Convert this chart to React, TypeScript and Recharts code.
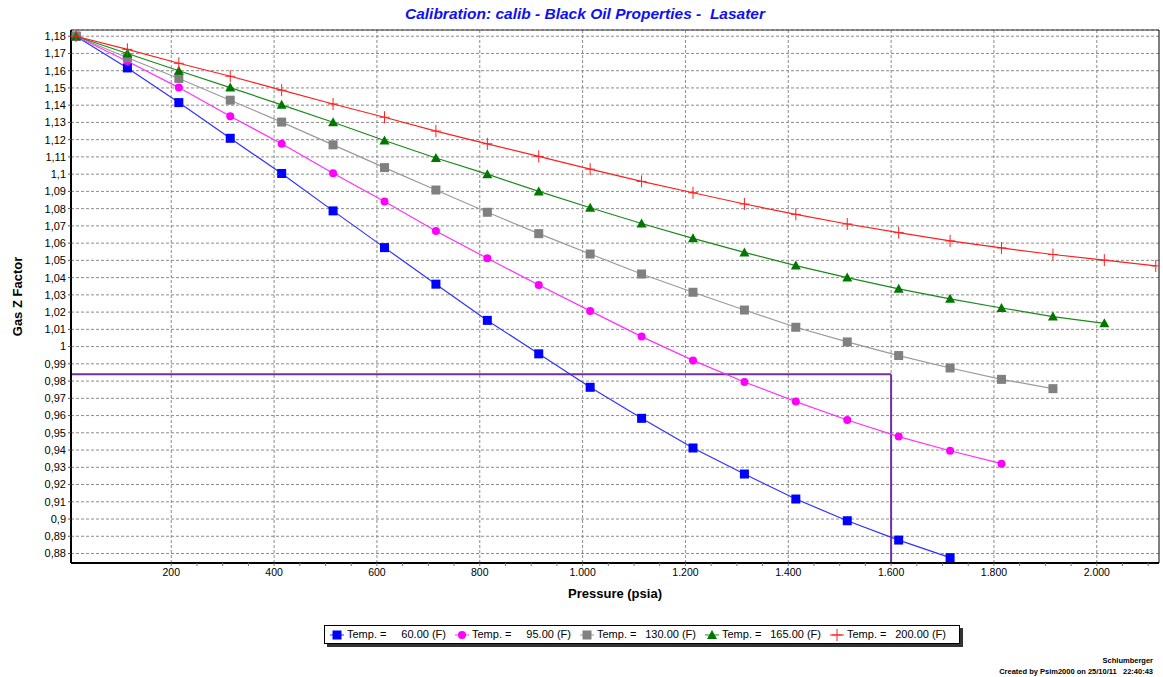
import { LineChart, Line, XAxis, YAxis, CartesianGrid, ReferenceLine, Legend } from "recharts"

// pressure steps (psia) shared by all isotherms
const pressure = [
  14.7, 114.7, 214.7, 314.7, 414.7, 514.7, 614.7, 714.7, 814.7, 914.7, 1014.7,
  1114.7, 1214.7, 1314.7, 1414.7, 1514.7, 1614.7, 1714.7, 1814.7, 1914.7, 2014.7, 2114.7,
]

// Gas Z factor per temperature
const z60 = [
  1.18, 1.1616, 1.1415, 1.1208, 1.1004, 1.0787, 1.0574, 1.0362, 1.0152, 0.9958, 0.9764,
  0.9584, 0.9412, 0.9261, 0.9116, 0.899, 0.8878, 0.8776,
]
const z95 = [
  1.18, 1.1655, 1.1502, 1.1336, 1.1176, 1.1005, 1.0841, 1.067, 1.0512, 1.0357, 1.0207,
  1.0058, 0.992, 0.9795, 0.9681, 0.9574, 0.9478, 0.9396, 0.9321,
]
const z130 = [
  1.18, 1.1675, 1.1555, 1.1429, 1.1302, 1.117, 1.1038, 1.0908, 1.0779, 1.0655, 1.0537,
  1.0421, 1.0315, 1.0212, 1.0112, 1.0027, 0.9948, 0.9876, 0.981, 0.9756,
]
const z165 = [
  1.18, 1.17, 1.16, 1.1502, 1.1402, 1.1301, 1.1195, 1.1094, 1.1, 1.09, 1.0805,
  1.0714, 1.0628, 1.0546, 1.047, 1.04, 1.0335, 1.0277, 1.0224, 1.0174, 1.0135,
]
const z200 = [
  1.18, 1.1724, 1.1643, 1.1568, 1.1487, 1.1407, 1.133, 1.125, 1.1176, 1.1103, 1.1029,
  1.0958, 1.0892, 1.0827, 1.0767, 1.0711, 1.0661, 1.0613, 1.0572, 1.0534, 1.0501, 1.0468,
]

const tempLabels = ["60.00", "95.00", "130.00", "165.00", "200.00"]

const xMajorTicks = [200, 400, 600, 800, 1000, 1200, 1400, 1600, 1800, 2000]
const xMinorTicks = [
  200, 250, 300, 350, 400, 450, 500, 550, 600, 650, 700, 750, 800, 850, 900, 950, 1000,
  1050, 1100, 1150, 1200, 1250, 1300, 1350, 1400, 1450, 1500, 1550, 1600, 1650, 1700,
  1750, 1800, 1850, 1900, 1950, 2000, 2050, 2100,
]
const yTicks = [
  0.88, 0.89, 0.9, 0.91, 0.92, 0.93, 0.94, 0.95, 0.96, 0.97, 0.98, 0.99, 1, 1.01, 1.02,
  1.03, 1.04, 1.05, 1.06, 1.07, 1.08, 1.09, 1.1, 1.11, 1.12, 1.13, 1.14, 1.15, 1.16, 1.17, 1.18,
]

// calibration box
const cutZ = 0.9839
const cutP = 1600

const X_MIN = 5
const X_MAX = 2121
const Y_MIN = 0.8745
const Y_MAX = 1.1836

const FONT = '"Liberation Sans", Arial, sans-serif'

const rows = (vals: number[]) => vals.map((z, i) => ({ p: pressure[i], z }))

type Shape = "square" | "circle" | "triangle" | "plus"

function Marker({ cx, cy, shape, color, fill }: any) {
  if (cx == null || cy == null) return null
  if (shape === "square")
    return <rect x={cx - 4.5} y={cy - 4.5} width={9} height={9} fill={fill} />
  if (shape === "circle") return <circle cx={cx} cy={cy} r={4} fill={fill} />
  if (shape === "triangle")
    return <polygon points={`${cx},${cy - 5} ${cx + 5},${cy + 4} ${cx - 5},${cy + 4}`} fill={fill} />
  return (
    <g stroke={color} strokeWidth={1}>
      <line x1={cx - 5} y1={cy} x2={cx + 5} y2={cy} />
      <line x1={cx} y1={cy - 6} x2={cx} y2={cy + 6} />
    </g>
  )
}

const series: { data: number[]; color: string; fill: string; shape: Shape; label: string }[] = [
  { data: z60, color: "#3030ff", fill: "#0000ff", shape: "square", label: tempLabels[0] },
  { data: z95, color: "#ff30ff", fill: "#ff00ff", shape: "circle", label: tempLabels[1] },
  { data: z130, color: "#9a9a9a", fill: "#808080", shape: "square", label: tempLabels[2] },
  { data: z165, color: "#1a8a1a", fill: "#007800", shape: "triangle", label: tempLabels[3] },
  { data: z200, color: "#ff2020", fill: "#ff0000", shape: "plus", label: tempLabels[4] },
]

const fmtY = (v: number) => String(parseFloat(v.toFixed(2))).replace(".", ",")
const fmtX = (v: number) => (v >= 1000 ? `${Math.floor(v / 1000)}.${String(v % 1000).padStart(3, "0")}` : String(v))

function XTick({ x, y, payload }: any) {
  if (!xMajorTicks.includes(payload.value)) return <g />
  return (
    <text x={x} y={y + 8} textAnchor="middle" fontSize={10.5} fontFamily={FONT} fill="#000">
      {fmtX(payload.value)}
    </text>
  )
}

function LegendBox() {
  return (
    <div
      style={{
        display: "flex",
        border: "1px solid #000",
        boxShadow: "3px 3px 0 #333",
        background: "#fff",
        padding: "2px 4px 2px 5px",
        fontFamily: FONT,
        fontSize: 11,
        lineHeight: "13px",
        whiteSpace: "nowrap",
        color: "#000",
      }}
    >
      {series.map((s) => (
        <div key={s.label} style={{ display: "flex", alignItems: "center", marginRight: 9 }}>
          <svg width={14} height={12}>
            <line x1={0} y1={6} x2={14} y2={6} stroke={s.color} strokeWidth={1} />
            <Marker cx={7} cy={6} shape={s.shape} color={s.color} fill={s.fill} />
          </svg>
          <span style={{ width: 41, marginLeft: 3 }}>Temp. =</span>
          <span style={{ width: 58, textAlign: "right" }}>{s.label} (F)</span>
        </div>
      ))}
    </div>
  )
}

export default function App() {
  return (
    <div style={{ position: "absolute", left: 0, top: 0, width: 1163, height: 677, background: "#fff" }}>
      <div
        style={{
          position: "absolute",
          left: 0,
          top: 5,
          width: 1170,
          textAlign: "center",
          fontFamily: FONT,
          fontSize: 15.5,
          fontWeight: "bold",
          fontStyle: "italic",
          color: "#1010f0",
          lineHeight: "18px",
        }}
      >
        Calibration: calib - Black Oil Properties -&nbsp; Lasater
      </div>

      <LineChart width={1163} height={677} margin={{ top: 30, right: 4, bottom: 74, left: 0 }}>
        <CartesianGrid stroke="#8c8c8c" strokeDasharray="3 2" verticalValues={xMajorTicks} />
        <XAxis
          type="number"
          dataKey="p"
          domain={[X_MIN, X_MAX]}
          ticks={xMinorTicks}
          interval={0}
          allowDataOverflow
          height={40}
          tickSize={3}
          tickMargin={2}
          tick={<XTick />}
          axisLine={{ stroke: "#000", strokeWidth: 2 }}
          tickLine={{ stroke: "#777" }}
          label={{
            content: ({ viewBox }: any) => (
              <text
                x={viewBox.x + viewBox.width / 2}
                y={viewBox.y + 34.5}
                textAnchor="middle"
                fontFamily={FONT}
                fontSize={13}
                fontWeight="bold"
                fill="#000"
              >
                Pressure (psia)
              </text>
            ),
          }}
        />
        <YAxis
          type="number"
          domain={[Y_MIN, Y_MAX]}
          ticks={yTicks}
          interval={0}
          allowDataOverflow
          width={71}
          tickSize={3}
          tickMargin={2}
          tickFormatter={fmtY}
          tick={{ fontSize: 11, fontFamily: FONT, fill: "#000" }}
          axisLine={{ stroke: "#000", strokeWidth: 2 }}
          tickLine={{ stroke: "#555" }}
          label={{
            content: ({ viewBox }: any) => {
              const cy = viewBox.y + viewBox.height / 2
              return (
                <text
                  x={22}
                  y={cy}
                  transform={`rotate(-90 22 ${cy})`}
                  textAnchor="middle"
                  fontFamily={FONT}
                  fontSize={13}
                  fontWeight="bold"
                  fill="#000"
                >
                  Gas Z Factor
                </text>
              )
            },
          }}
        />
        <ReferenceLine y={Y_MAX} stroke="#333" strokeWidth={1} />
        <ReferenceLine x={X_MAX} stroke="#000" strokeWidth={1} />
        <ReferenceLine
          segment={[{ x: X_MIN, y: cutZ }, { x: cutP, y: cutZ }]}
          stroke="#7030a0"
          strokeWidth={2}
        />
        <ReferenceLine
          segment={[{ x: cutP, y: cutZ }, { x: cutP, y: Y_MIN }]}
          stroke="#7030a0"
          strokeWidth={2}
        />
        {series.map((s) => (
          <Line
            key={s.label}
            data={rows(s.data)}
            dataKey="z"
            type="linear"
            stroke={s.color}
            strokeWidth={1.2}
            dot={(props: any) => (
              <Marker key={`${s.label}-${props.index}`} cx={props.cx} cy={props.cy} shape={s.shape} color={s.color} fill={s.fill} />
            )}
            activeDot={false}
            isAnimationActive={false}
          />
        ))}
        <Legend
          layout="vertical"
          align="center"
          verticalAlign="middle"
          content={<LegendBox />}
          wrapperStyle={{ left: 324, top: 625, width: "auto", height: "auto" }}
        />
      </LineChart>

      <div
        style={{
          position: "absolute",
          right: 10,
          top: 655,
          textAlign: "right",
          fontFamily: FONT,
          fontSize: 7.5,
          fontWeight: "bold",
          lineHeight: "11px",
          color: "#000",
          whiteSpace: "pre",
        }}
      >
        {"Schlumberger\nCreated by Psim2000 on 25/10/11   22:40:43"}
      </div>
    </div>
  )
}
